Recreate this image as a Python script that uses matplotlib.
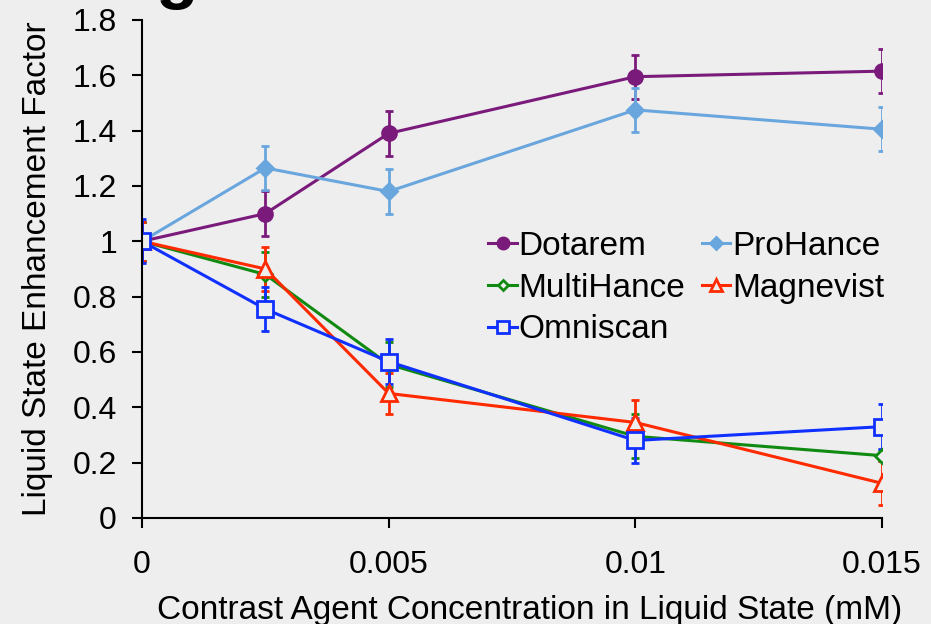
import numpy as np
import matplotlib
matplotlib.use("Agg")
import matplotlib.pyplot as plt

plt.rcParams['font.family'] = ['Liberation Sans', 'DejaVu Sans']

#%% data
conc = [0, 0.0025, 0.005, 0.01, 0.015]

dotarem = [1.0, 1.10, 1.39, 1.595, 1.615]
dotarem_err = [0.07, 0.08, 0.08, 0.08, 0.08]

prohance = [1.0, 1.265, 1.18, 1.475, 1.405]
prohance_err = [0.07, 0.08, 0.08, 0.08, 0.08]

multihance = [1.0, 0.88, 0.555, 0.295, 0.225]
multihance_err = [0.07, 0.08, 0.08, 0.08, 0.02]

magnevist = [1.0, 0.90, 0.45, 0.345, 0.125]
magnevist_err = [0.07, 0.08, 0.075, 0.08, 0.08]

omniscan = [1.0, 0.755, 0.565, 0.28, 0.33]
omniscan_err = [0.08, 0.08, 0.08, 0.08, 0.08]

xticks = [0, 0.005, 0.01, 0.015]
xticklabels = ['0', '0.005', '0.01', '0.015']
yticks = [0, 0.2, 0.4, 0.6, 0.8, 1.0, 1.2, 1.4, 1.6, 1.8]
yticklabels = ['0', '0.2', '0.4', '0.6', '0.8', '1', '1.2', '1.4', '1.6', '1.8']

bg = '#EEEEEE'
fig = plt.figure(figsize=(9.31, 6.24), dpi=100, facecolor=bg)
ax = fig.add_axes([0.1525, 0.170, 0.795, 0.798], facecolor=bg)

series = [
    ('Dotarem', dotarem, dotarem_err, '#7A1A7A', 'o', True, 10),
    ('ProHance', prohance, prohance_err, '#6AA6DE', 'D', True, 8),
    ('MultiHance', multihance, multihance_err, '#118A11', 'D', False, 7),
    ('Magnevist', magnevist, magnevist_err, '#FF2A00', '^', False, 11),
    ('Omniscan', omniscan, omniscan_err, '#1030FF', 's', False, 11),
]

h = {}
for name, vals, err, col, mk, filled, ms in series:
    eb = ax.errorbar(conc, vals, yerr=err, color=col, lw=2.2, marker=mk,
                     ms=ms, mfc=col if filled else bg, mec=col, mew=2,
                     elinewidth=2, capsize=3, capthick=2, label=name)
    h[name] = eb[0]

order = ['Dotarem', 'MultiHance', 'Omniscan', 'ProHance', 'Magnevist']
ax.legend([h[n] for n in order], order, ncol=2, frameon=False, fontsize=24,
          loc='upper left', bbox_to_anchor=(0.468, 0.576), handlelength=0.85,
          handletextpad=0.05, columnspacing=0.5, labelspacing=0.32,
          borderaxespad=0, borderpad=0, markerscale=0.8)

ax.set_xlim(0, 0.015)
ax.set_ylim(0, 1.8)
ax.set_xticks(xticks)
ax.set_xticklabels(xticklabels)
ax.set_yticks(yticks)
ax.set_yticklabels(yticklabels)
ax.tick_params(axis='x', direction='out', length=7, width=1.5, labelsize=23, pad=16)
ax.tick_params(axis='y', direction='out', length=7, width=1.5, labelsize=23, pad=11)
for s in ['top', 'right']:
    ax.spines[s].set_visible(False)
for s in ['left', 'bottom']:
    ax.spines[s].set_linewidth(1.5)

ax.set_xlabel('Contrast Agent Concentration in Liquid State (mM)', fontsize=24, labelpad=9)
ax.xaxis.set_label_coords(0.524, -0.155)
ax.set_ylabel('Liquid State Enhancement Factor', fontsize=24, labelpad=14)

# panel letter, cropped at the top edge
fig.text(0.167, 1.006, 'g', fontsize=50, fontweight='bold', ha='left', va='baseline')

fig.savefig('out.png', dpi=100, facecolor=bg)
